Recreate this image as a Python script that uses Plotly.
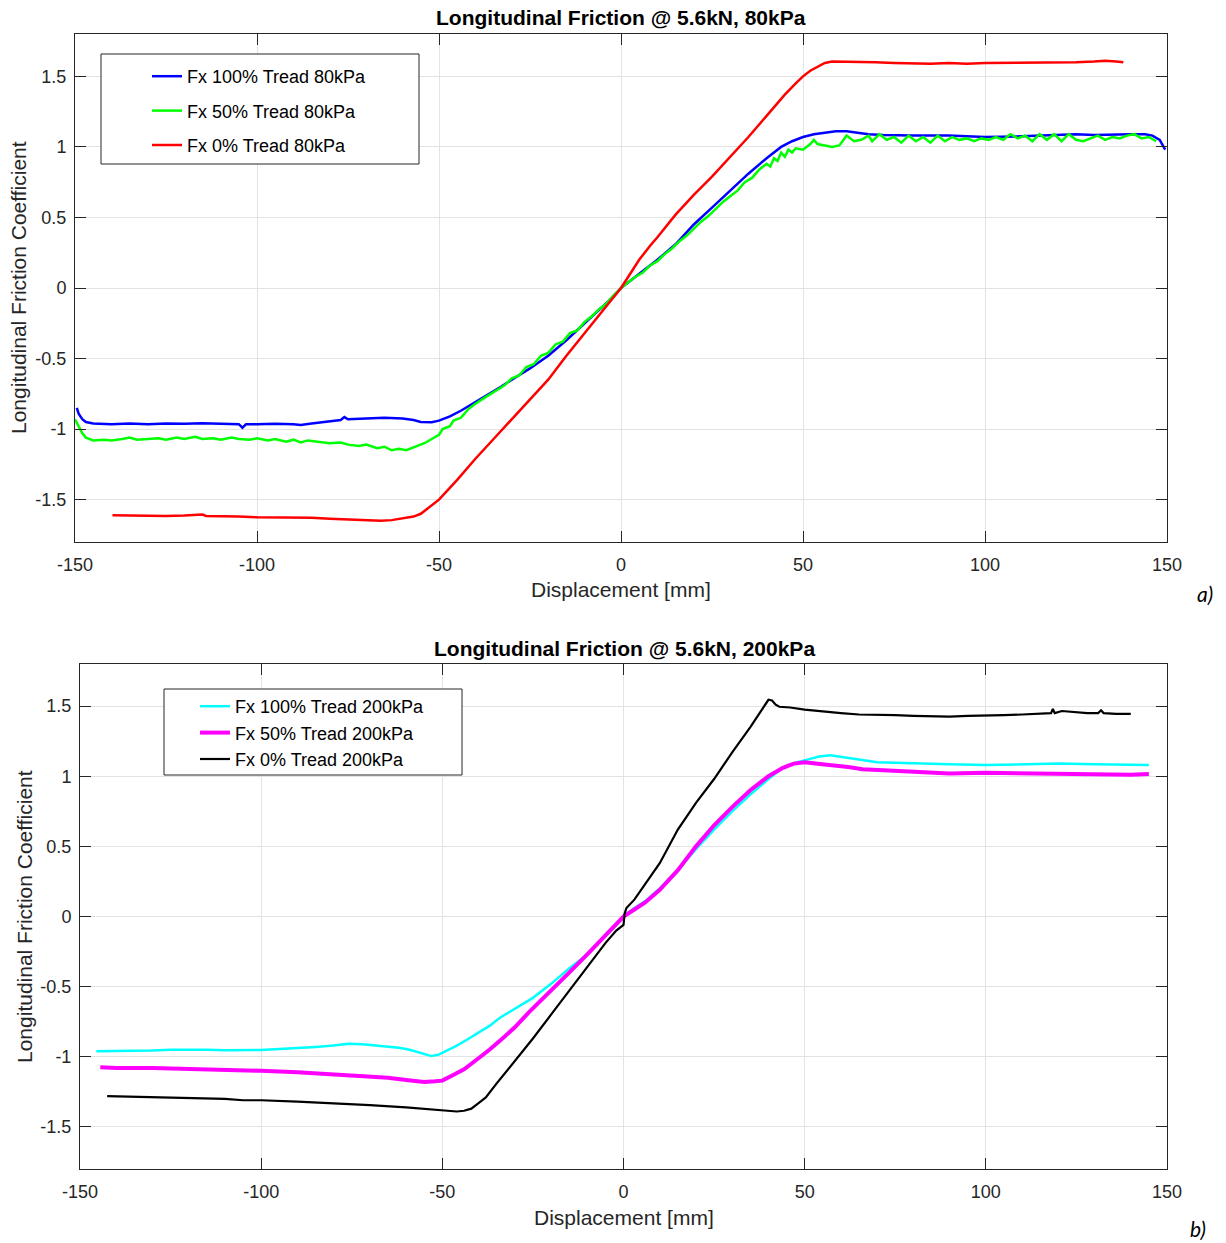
import plotly.graph_objects as go

# ---------------- DATA ----------------
x_ticks = [-150, -100, -50, 0, 50, 100, 150]
x_ticktext = ["-150", "-100", "-50", "0", "50", "100", "150"]
y_ticks = [-1.5, -1, -0.5, 0, 0.5, 1, 1.5]
y_ticktext = ["-1.5", "-1", "-0.5", "0", "0.5", "1", "1.5"]

# Top panel: 80 kPa
blue_x = [-149.5, -149, -148, -147, -145, -140, -135, -130, -125, -120, -115, -110, -105, -104, -103, -100,
          -95, -90, -88, -85, -80, -77, -76, -75, -70, -65, -60, -57, -55, -52, -50, -47, -44, -42, -39,
          -36, -33, -30, -25, -20, -15, -10, -5, -2, 0, 3, 6, 10, 15, 20, 25, 30, 35, 40, 44, 47, 50, 53,
          56, 59, 62, 65, 68, 72, 80, 90, 100, 110, 120, 125, 130, 135, 140, 144, 146, 148, 149.5]
blue_y = [-0.85, -0.89, -0.93, -0.95, -0.96, -0.965, -0.96, -0.965, -0.96, -0.962, -0.958, -0.963, -0.965,
          -0.99, -0.965, -0.965, -0.962, -0.965, -0.97, -0.96, -0.945, -0.935, -0.915, -0.93, -0.925, -0.92,
          -0.925, -0.935, -0.95, -0.952, -0.94, -0.91, -0.87, -0.84, -0.79, -0.75, -0.70, -0.65, -0.57,
          -0.48, -0.37, -0.25, -0.13, -0.06, 0.0, 0.06, 0.12, 0.20, 0.31, 0.45, 0.57, 0.69, 0.81, 0.92,
          1.0, 1.04, 1.07, 1.09, 1.10, 1.11, 1.11, 1.10, 1.09, 1.085, 1.08, 1.08, 1.07, 1.075, 1.085, 1.09,
          1.085, 1.09, 1.09, 1.09, 1.08, 1.05, 0.98]

green_x = [-150, -149, -148, -147, -145, -142, -140, -137, -135, -133, -130, -127, -125, -122, -120, -117,
           -115, -112, -110, -107, -105, -102, -100, -97, -95, -92, -90, -88, -86, -83, -80, -77, -75, -72,
           -70, -67, -65, -63, -61, -59, -57, -54, -52, -50, -49, -47, -46, -44, -42, -40, -37, -35, -32,
           -30, -28, -26, -24, -22, -20, -18, -16, -14, -12, -10, -8, -6, -4, -2, 0, 2, 4, 6, 8, 10, 12,
           14, 16, 18, 20, 22, 24, 26, 28, 30, 32, 34, 36, 38, 40, 41, 42, 43, 44, 45, 46, 47, 48, 50, 52,
           53, 54, 56, 58, 60, 62, 64, 66, 68, 69, 71, 73, 75, 77, 79, 81, 83, 85, 87, 89, 91, 93, 95, 97,
           99, 101, 103, 105, 107, 109, 111, 113, 115, 117, 119, 121, 123, 125, 127, 129, 131, 133, 135,
           137, 139, 141, 143, 145, 147]
green_y = [-0.93, -0.98, -1.03, -1.06, -1.08, -1.075, -1.08, -1.07, -1.06, -1.075, -1.07, -1.065, -1.075,
           -1.06, -1.07, -1.055, -1.07, -1.065, -1.075, -1.06, -1.07, -1.075, -1.065, -1.08, -1.07, -1.09,
           -1.075, -1.095, -1.08, -1.09, -1.10, -1.095, -1.11, -1.12, -1.11, -1.135, -1.125, -1.15, -1.14,
           -1.15, -1.13, -1.10, -1.07, -1.04, -1.0, -0.98, -0.94, -0.92, -0.86, -0.82, -0.77, -0.74, -0.69,
           -0.64, -0.62, -0.56, -0.54, -0.48, -0.46, -0.40, -0.38, -0.32, -0.30, -0.24, -0.20, -0.15, -0.11,
           -0.05, 0.0, 0.04, 0.08, 0.11, 0.16, 0.19, 0.24, 0.28, 0.33, 0.37, 0.42, 0.47, 0.51, 0.56, 0.61,
           0.65, 0.69, 0.75, 0.78, 0.84, 0.88, 0.86, 0.92, 0.90, 0.96, 0.93, 0.98, 0.96, 0.99, 0.98, 1.02,
           1.05, 1.02, 1.01, 1.0, 1.01, 1.08, 1.04, 1.05, 1.08, 1.04, 1.09, 1.05, 1.07, 1.03, 1.08, 1.04,
           1.07, 1.03, 1.08, 1.04, 1.07, 1.05, 1.06, 1.04, 1.06, 1.05, 1.07, 1.05, 1.09, 1.06, 1.08, 1.04,
           1.09, 1.05, 1.09, 1.04, 1.09, 1.05, 1.04, 1.06, 1.08, 1.05, 1.07, 1.06, 1.08, 1.09, 1.06, 1.07,
           1.04]

red_x = [-139.7, -135, -130, -125, -120, -115, -114, -110, -105, -100, -95, -90, -85, -80, -75, -70, -66,
         -63, -60, -57, -55, -53, -50, -45, -40, -35, -30, -25, -20, -15, -10, -5, -2, 0, 2, 5, 8, 10, 15,
         20, 25, 30, 35, 40, 45, 48, 50, 52, 54, 56, 58, 60, 65, 70, 75, 80, 85, 90, 95, 100, 105, 110,
         115, 120, 125, 130, 133, 136, 138]
red_y = [-1.61, -1.612, -1.61, -1.615, -1.612, -1.605, -1.615, -1.615, -1.62, -1.625, -1.625, -1.63, -1.628,
         -1.635, -1.64, -1.645, -1.65, -1.645, -1.635, -1.62, -1.60, -1.56, -1.50, -1.36, -1.21, -1.07,
         -0.93, -0.79, -0.65, -0.48, -0.32, -0.16, -0.06, 0.0, 0.08, 0.20, 0.30, 0.36, 0.52, 0.66, 0.79,
         0.93, 1.07, 1.22, 1.37, 1.45, 1.50, 1.54, 1.57, 1.595, 1.605, 1.605, 1.60, 1.60, 1.595, 1.59,
         1.59, 1.595, 1.59, 1.595, 1.595, 1.595, 1.60, 1.60, 1.60, 1.605, 1.61, 1.605, 1.60]

# Bottom panel: 200 kPa
cyan_x = [-145.5, -140, -135, -130, -125, -120, -115, -110, -105, -100, -95, -90, -85, -80, -76, -72, -68,
          -65, -62, -59, -56, -53, -51, -49, -46, -43, -40, -37, -34, -30, -25, -20, -15, -10, -5, -2, 0,
          3, 6, 10, 15, 20, 25, 30, 35, 40, 44, 48, 51, 54, 57, 60, 65, 70, 75, 80, 90, 100, 110, 120,
          130, 140, 145]
cyan_y = [-0.96, -0.958, -0.96, -0.955, -0.95, -0.948, -0.95, -0.953, -0.955, -0.952, -0.945, -0.94, -0.93,
          -0.92, -0.908, -0.91, -0.92, -0.93, -0.935, -0.95, -0.97, -0.995, -0.985, -0.96, -0.92, -0.875,
          -0.83, -0.78, -0.72, -0.66, -0.58, -0.48, -0.37, -0.27, -0.14, -0.06, 0.0, 0.06, 0.11, 0.20,
          0.33, 0.48, 0.62, 0.75, 0.87, 0.98, 1.06, 1.10, 1.12, 1.14, 1.15, 1.14, 1.12, 1.10, 1.095, 1.09,
          1.085, 1.08, 1.085, 1.09, 1.085, 1.085, 1.08]

magenta_x = [-144.4, -140, -130, -120, -110, -100, -90, -80, -75, -70, -65, -60, -55, -52, -50, -47, -44,
             -41, -37, -33, -30, -26, -20, -15, -10, -5, 0, 3, 6, 10, 15, 20, 25, 30, 35, 40, 44, 47, 50,
             53, 57, 62, 66, 70, 75, 80, 85, 90, 100, 110, 120, 130, 140, 145]
magenta_y = [-1.075, -1.08, -1.08, -1.085, -1.09, -1.10, -1.11, -1.125, -1.13, -1.14, -1.15, -1.165, -1.18,
             -1.175, -1.17, -1.13, -1.09, -1.03, -0.95, -0.86, -0.79, -0.68, -0.53, -0.40, -0.27, -0.14,
             0.0, 0.05, 0.10, 0.19, 0.33, 0.50, 0.65, 0.78, 0.90, 1.0, 1.06, 1.09, 1.10, 1.09, 1.08, 1.065,
             1.05, 1.045, 1.04, 1.03, 1.03, 1.02, 1.025, 1.02, 1.02, 1.015, 1.01, 1.015]

black_x = [-142.5, -135, -130, -120, -110, -105, -100, -90, -80, -70, -60, -55, -50, -46, -44, -42, -40,
           -38, -35, -30, -25, -20, -16.8, -10, -5, -2, 0, 0.3, 0.8, 3, 6, 10, 15, 20, 25, 30, 35, 38, 40,
           41, 42, 43, 46, 50, 55, 60, 65, 70, 75, 80, 85, 90, 95, 100, 105, 110, 115, 118, 118.5, 119,
           121, 125, 128, 131, 131.8, 132.5, 136, 140]
black_y = [-1.28, -1.285, -1.285, -1.295, -1.30, -1.31, -1.31, -1.32, -1.33, -1.345, -1.36, -1.37, -1.38,
           -1.39, -1.385, -1.37, -1.33, -1.29, -1.19, -1.03, -0.87, -0.70, -0.59, -0.36, -0.19, -0.10,
           -0.06, 0.02, 0.06, 0.12, 0.23, 0.38, 0.62, 0.81, 0.98, 1.17, 1.35, 1.47, 1.545, 1.54, 1.51,
           1.495, 1.49, 1.475, 1.46, 1.45, 1.44, 1.44, 1.435, 1.43, 1.425, 1.425, 1.43, 1.43, 1.435, 1.44,
           1.445, 1.45, 1.48, 1.45, 1.465, 1.455, 1.45, 1.45, 1.47, 1.45, 1.445, 1.445]

# ---------------- FIGURE ----------------
W, H = 1226, 1243
FONT = "Liberation Sans, Arial, Helvetica, sans-serif"
AX = "#262626"
GRID = "#e3e3e3"


def px_x(p):
    return p / W


def px_y(p):
    return 1 - p / H


fig = go.Figure()

top_series = [
    (blue_x, blue_y, "#0000ff", "Fx 100% Tread 80kPa", 2.5),
    (green_x, green_y, "#00ff00", "Fx 50% Tread 80kPa", 2.5),
    (red_x, red_y, "#ff0000", "Fx 0% Tread 80kPa", 2.5),
]
bot_series = [
    (cyan_x, cyan_y, "#00ffff", "Fx 100% Tread 200kPa", 2.5),
    (magenta_x, magenta_y, "#ff00ff", "Fx 50% Tread 200kPa", 4),
    (black_x, black_y, "#000000", "Fx 0% Tread 200kPa", 2.2),
]

for i, (xs, ys, c, name, w) in enumerate(top_series):
    fig.add_trace(go.Scatter(x=xs, y=ys, mode="lines", name=name, line=dict(color=c, width=w),
                             xaxis="x", yaxis="y", legend="legend", legendgroup="t%d" % i))
for i, (xs, ys, c, name, w) in enumerate(bot_series):
    fig.add_trace(go.Scatter(x=xs, y=ys, mode="lines", name=name, line=dict(color=c, width=w),
                             xaxis="x2", yaxis="y2", legend="legend2", legendgroup="b%d" % i))

tickfont = dict(family=FONT, size=18, color=AX)


def xaxis(domain, anchor):
    return dict(domain=domain, anchor=anchor, range=[-150, 150], tickvals=x_ticks, ticktext=x_ticktext,
                showline=True, mirror="allticks", linecolor=AX, linewidth=1, ticks="inside", ticklen=11,
                tickcolor=AX, showgrid=True, gridcolor=GRID, gridwidth=1, zeroline=False, tickfont=tickfont,
                ticklabelstandoff=6, automargin=False)


def yaxis(domain, anchor):
    return dict(domain=domain, anchor=anchor, range=[-1.8, 1.8], tickvals=y_ticks, ticktext=y_ticktext,
                showline=True, mirror="allticks", linecolor=AX, linewidth=1, ticks="inside", ticklen=11,
                tickcolor=AX, showgrid=True, gridcolor=GRID, gridwidth=1, zeroline=False, tickfont=tickfont,
                ticklabelstandoff=4, automargin=False)


legend_font = dict(family=FONT, size=18, color="#000000")

fig.update_layout(
    template="none",
    width=W, height=H, margin=dict(l=0, r=0, t=0, b=0, autoexpand=False),
    paper_bgcolor="white", plot_bgcolor="white", showlegend=True,
    xaxis=xaxis([px_x(75), px_x(1167)], "y"),
    yaxis=yaxis([px_y(542), px_y(34)], "x"),
    xaxis2=xaxis([px_x(80), px_x(1167)], "y2"),
    yaxis2=yaxis([px_y(1169), px_y(664)], "x2"),
    legend=dict(x=px_x(147), y=px_y(58), xanchor="left", yanchor="top", bgcolor="rgba(0,0,0,0)",
                borderwidth=0, font=legend_font, traceorder="grouped", tracegroupgap=8),
    legend2=dict(x=px_x(195), y=px_y(688), xanchor="left", yanchor="top", bgcolor="rgba(0,0,0,0)",
                 borderwidth=0, font=legend_font, traceorder="grouped", tracegroupgap=0),
    shapes=[
        dict(type="rect", xref="paper", yref="paper", x0=px_x(101), x1=px_x(419), y0=px_y(164), y1=px_y(54),
             line=dict(color=AX, width=1), fillcolor="white", layer="above"),
        dict(type="rect", xref="paper", yref="paper", x0=px_x(164), x1=px_x(462), y0=px_y(775), y1=px_y(689),
             line=dict(color=AX, width=1), fillcolor="white", layer="above"),
    ],
)

title_font = dict(family=FONT, size=21, color="#000000")
label_font = dict(family=FONT, size=21, color=AX)
ann = [
    dict(text="<b>Longitudinal Friction @ 5.6kN, 80kPa</b>", x=px_x(621), y=px_y(17), font=title_font),
    dict(text="<b>Longitudinal Friction @ 5.6kN, 200kPa</b>", x=px_x(624), y=px_y(648), font=title_font),
    dict(text="Displacement [mm]", x=px_x(621), y=px_y(589), font=label_font),
    dict(text="Displacement [mm]", x=px_x(624), y=px_y(1217), font=label_font),
    dict(text="Longitudinal Friction Coefficient", x=px_x(18), y=px_y(288), font=label_font, textangle=-90),
    dict(text="Longitudinal Friction Coefficient", x=px_x(24), y=px_y(917), font=label_font, textangle=-90),
    dict(text="<i>a)</i>", x=px_x(1205), y=px_y(593), font=dict(family="Lato, Noto Sans", size=21, color="#000")),
    dict(text="<i>b)</i>", x=px_x(1198), y=px_y(1228), font=dict(family="Lato, Noto Sans", size=21, color="#000")),
]
for a in ann:
    a.update(xref="paper", yref="paper", showarrow=False, xanchor="center", yanchor="middle")
fig.update_layout(annotations=ann)

fig.write_html("out.html")
